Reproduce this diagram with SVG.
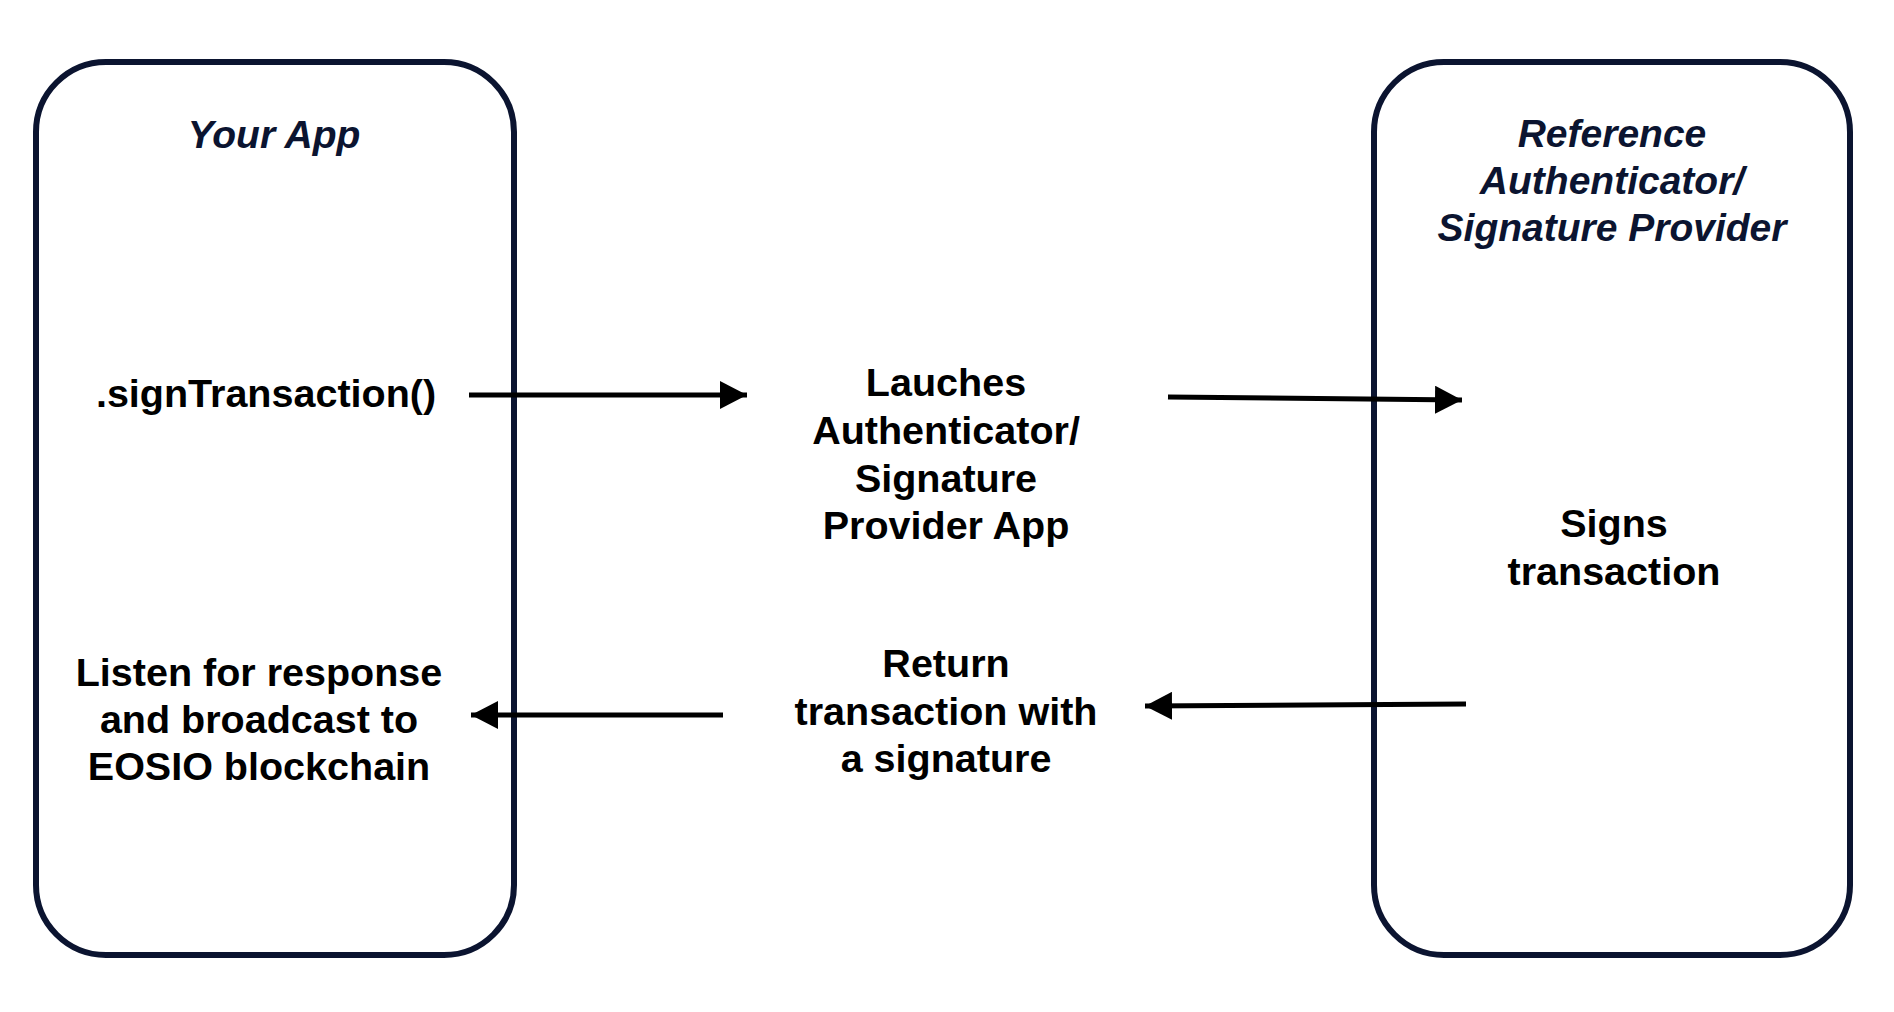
<svg xmlns="http://www.w3.org/2000/svg" width="1894" height="1012" viewBox="0 0 1894 1012">
<style>
.box{fill:#ffffff;stroke:#0b1430;stroke-width:6}
.title{font-family:"Liberation Sans",Arial,sans-serif;font-weight:bold;font-style:italic;font-size:39px;fill:#0b1430;text-anchor:middle}
.body{font-family:"Liberation Sans",Arial,sans-serif;font-weight:bold;font-size:39.5px;fill:#000000;text-anchor:middle}
.conn{stroke:#000000;stroke-width:5;fill:none}
</style>
<defs>
<marker id="ah" markerWidth="28" markerHeight="28" viewBox="0 0 28 28" refX="27" refY="14" orient="auto" markerUnits="userSpaceOnUse">
<path d="M0,0 L27,14 L0,28 Z" fill="#000000"/>
</marker>
</defs>
<rect width="1894" height="1012" fill="#ffffff"/>
<g id="your-app">
<rect class="box" x="36" y="62" width="478" height="893" rx="70" ry="70"/>
<text class="title" x="274" y="148">Your App</text>
<text class="body" x="266" y="407">.signTransaction()</text>
<text class="body" x="259"><tspan x="259" y="686">Listen for response</tspan><tspan x="259" y="733">and broadcast to</tspan><tspan x="259" y="780">EOSIO blockchain</tspan></text>
</g>
<g id="reference-authenticator">
<rect class="box" x="1374" y="62" width="476" height="893" rx="70" ry="70"/>
<text class="title" x="1612"><tspan x="1612" y="147">Reference</tspan><tspan x="1612" y="194">Authenticator/</tspan><tspan x="1612" y="241">Signature Provider</tspan></text>
<text class="body" x="1614"><tspan x="1614" y="537">Signs</tspan><tspan x="1614" y="585">transaction</tspan></text>
</g>
<g id="launch-label">
<text class="body" x="946"><tspan x="946" y="396">Lauches</tspan><tspan x="946" y="444">Authenticator/</tspan><tspan x="946" y="492">Signature</tspan><tspan x="946" y="539">Provider App</tspan></text>
</g>
<g id="return-label">
<text class="body" x="946"><tspan x="946" y="677">Return</tspan><tspan x="946" y="725">transaction with</tspan><tspan x="946" y="772">a signature</tspan></text>
</g>
<g id="connectors">
<line class="conn" x1="469" y1="395" x2="747" y2="395" marker-end="url(#ah)"/>
<line class="conn" x1="1168" y1="397" x2="1462" y2="400" marker-end="url(#ah)"/>
<line class="conn" x1="1466" y1="704" x2="1145" y2="706" marker-end="url(#ah)"/>
<line class="conn" x1="723" y1="715" x2="471" y2="715" marker-end="url(#ah)"/>
</g>
</svg>
